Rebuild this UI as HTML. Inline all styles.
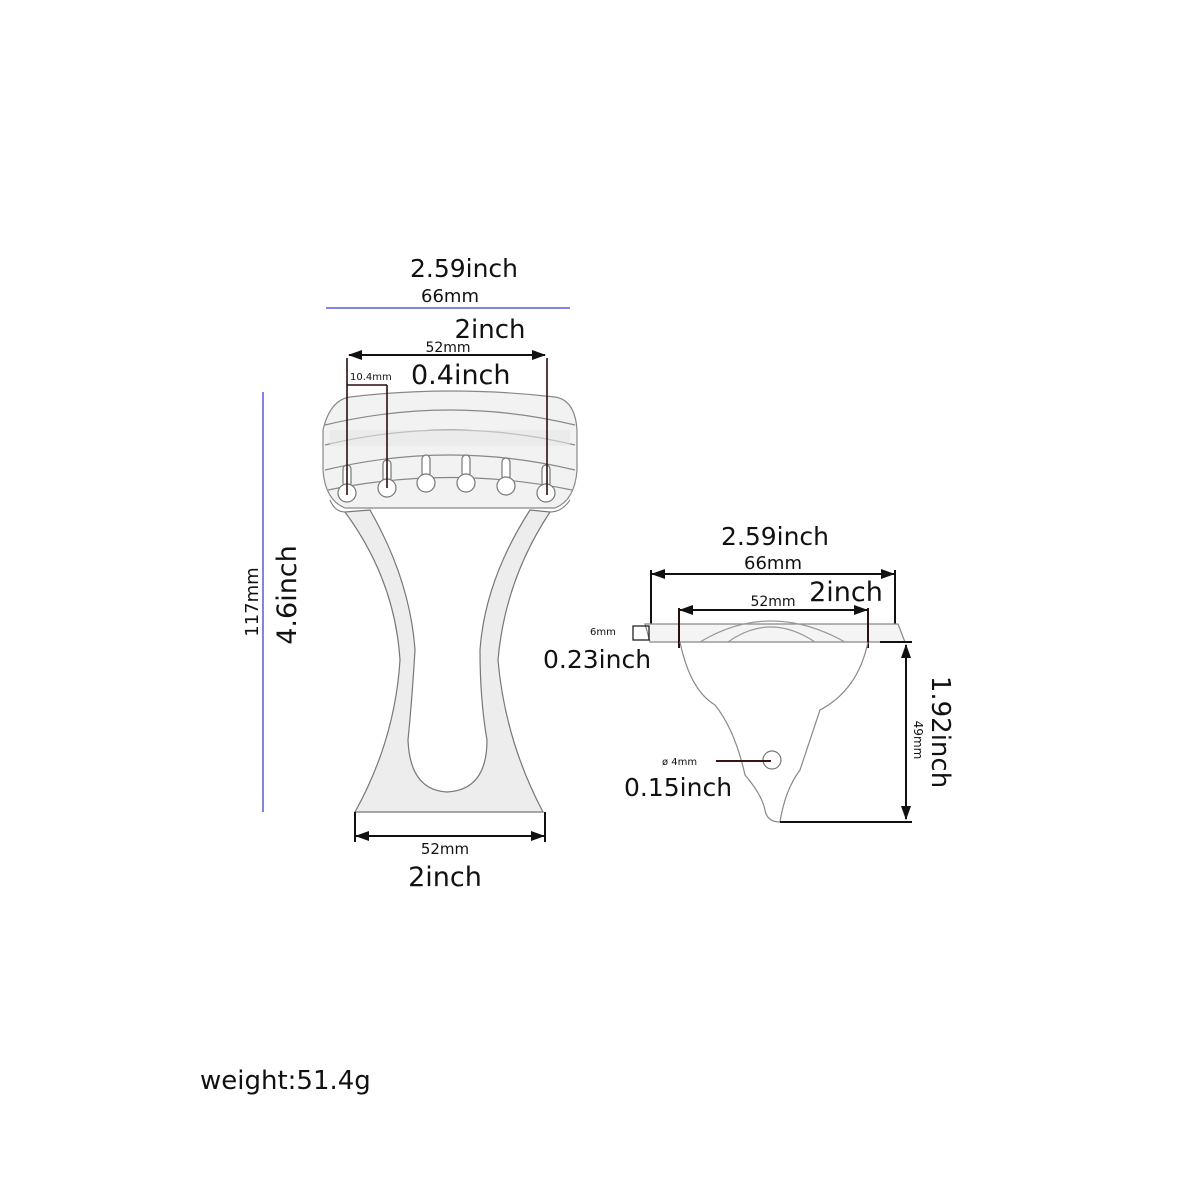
<!DOCTYPE html>
<html><head><meta charset="utf-8"><style>body{margin:0;background:#fff}svg{display:block}text{font-family:"DejaVu Sans","Liberation Sans",sans-serif;fill:#111}</style></head><body>
<svg width="1200" height="1200" viewBox="0 0 1200 1200" xmlns="http://www.w3.org/2000/svg">
<defs><marker id="a" markerWidth="7" markerHeight="6" refX="6.5" refY="3" orient="auto-start-reverse" markerUnits="userSpaceOnUse"><path d="M0,0 L7,3 L0,6z" fill="#111"/></marker>
<marker id="b" markerWidth="14" markerHeight="10" refX="13" refY="5" orient="auto-start-reverse" markerUnits="userSpaceOnUse"><path d="M0,0 L14,5 L0,10z" fill="#111"/></marker></defs>
<!-- left blue dims -->
<line x1="326" y1="308" x2="570" y2="308" stroke="#5a5ad8" stroke-width="1.5"/>
<line x1="263" y1="392" x2="263" y2="812" stroke="#5a5ad8" stroke-width="1.5"/>
<text x="464" y="277" font-size="25" text-anchor="middle">2.59inch</text>
<text x="450" y="302" font-size="18" text-anchor="middle">66mm</text>
<text x="490" y="338" font-size="26" text-anchor="middle">2inch</text>
<text x="448" y="352" font-size="14" text-anchor="middle">52mm</text>
<line x1="349" y1="355" x2="545" y2="355" stroke="#111" stroke-width="2" marker-start="url(#b)" marker-end="url(#b)"/>
<text x="350" y="380" font-size="10">10.4mm</text>
<text x="411" y="384" font-size="27">0.4inch</text>
<!-- head band -->
<path d="M323,430 Q330,400 350,397 Q450,385 555,397 Q575,400 577,430 L577,470 Q575,500 555,508 L345,508 Q325,500 323,470Z" fill="#f2f2f2" stroke="#888" stroke-width="1.2"/>
<path d="M325,425 Q450,395 575,425 M325,445 Q450,415 575,445 M325,470 Q450,440 575,470 M328,490 Q450,465 572,490" fill="none" stroke="#888" stroke-width="1.2"/>
<rect x="330" y="430" width="240" height="16" fill="#e6e6e6" opacity=".6"/>
<!-- holes -->
<g fill="#fff" stroke="#777" stroke-width="1.2">
<rect x="343" y="465" width="8" height="22" rx="4"/><circle cx="347" cy="493" r="9"/>
<rect x="383" y="460" width="8" height="22" rx="4"/><circle cx="387" cy="488" r="9"/>
<rect x="422" y="455" width="8" height="22" rx="4"/><circle cx="426" cy="483" r="9"/>
<rect x="462" y="455" width="8" height="22" rx="4"/><circle cx="466" cy="483" r="9"/>
<rect x="502" y="458" width="8" height="22" rx="4"/><circle cx="506" cy="486" r="9"/>
<rect x="542" y="465" width="8" height="22" rx="4"/><circle cx="546" cy="493" r="9"/>
</g>
<!-- neck -->
<path d="M345,512 L370,510 Q410,580 415,650 Q412,700 408,740 Q410,790 447,792 Q487,790 487,740 Q480,700 480,650 Q485,580 530,510 L550,512 Q505,580 498,660 Q505,740 543,812 L355,812 Q395,740 400,660 Q395,580 345,512Z" fill="#ededed" stroke="#777" stroke-width="1.2"/>
<path d="M330,500 Q335,512 345,512 M570,500 Q562,512 550,512" fill="none" stroke="#777"/>
<path d="M347,358 L347,495 M387,385 L387,488 M347,385 L387,385 M547,358 L547,495" fill="none" stroke="#2a0f0f" stroke-width="1.6"/>
<!-- bottom dim -->
<path d="M355,812 L355,842 M545,812 L545,842" stroke="#111" stroke-width="2"/>
<line x1="356" y1="836" x2="544" y2="836" stroke="#111" stroke-width="2" marker-start="url(#b)" marker-end="url(#b)"/>
<text x="445" y="854" font-size="15" text-anchor="middle">52mm</text>
<text x="445" y="886" font-size="27" text-anchor="middle">2inch</text>
<text transform="translate(258,602) rotate(-90)" font-size="18" text-anchor="middle">117mm</text>
<text transform="translate(296,595) rotate(-90)" font-size="27" text-anchor="middle">4.6inch</text>
<text x="200" y="1089" font-size="26">weight:51.4g</text>
<!-- right -->
<text x="775" y="545" font-size="25" text-anchor="middle">2.59inch</text>
<text x="773" y="569" font-size="18" text-anchor="middle">66mm</text>
<line x1="652" y1="574" x2="894" y2="574" stroke="#111" stroke-width="2" marker-start="url(#b)" marker-end="url(#b)"/>
<path d="M651,570 L651,642 M895,570 L895,628" stroke="#111" stroke-width="2"/>
<text x="846" y="601" font-size="27" text-anchor="middle">2inch</text>
<text x="773" y="606" font-size="14" text-anchor="middle">52mm</text>
<line x1="680" y1="610" x2="867" y2="610" stroke="#111" stroke-width="2" marker-start="url(#b)" marker-end="url(#b)"/>
<path d="M645,624 L898,624 L905,642 L650,642Z" fill="#f4f4f4" stroke="#888" stroke-width="1.2"/>
<path d="M700,642 Q770,600 845,642 M728,642 Q770,612 815,642" fill="none" stroke="#999" stroke-width="1.2"/>
<path d="M679,608 L679,648 M868,608 L868,648" stroke="#2a0f0f" stroke-width="2"/>
<rect x="633" y="626" width="16" height="14" fill="none" stroke="#111" stroke-width="1.2"/>
<text x="590" y="635" font-size="10">6mm</text>
<text x="543" y="668" font-size="25">0.23inch</text>
<path d="M680,642 Q690,690 715,705 Q735,730 745,775 Q762,795 765,810 Q767,822 780,822 Q785,790 800,770 Q810,740 820,710 Q858,690 868,642" fill="none" stroke="#888" stroke-width="1.2"/>
<circle cx="772" cy="760" r="9" fill="none" stroke="#777" stroke-width="1.2"/>
<line x1="716" y1="761" x2="771" y2="761" stroke="#3a1414" stroke-width="2"/>
<text x="662" y="765" font-size="10">ø 4mm</text>
<text x="624" y="796" font-size="25">0.15inch</text>
<path d="M880,642 L912,642 M780,822 L912,822" stroke="#111" stroke-width="2"/>
<line x1="906" y1="645" x2="906" y2="819" stroke="#111" stroke-width="2" marker-start="url(#b)" marker-end="url(#b)"/>
<text transform="translate(932,732) rotate(90)" font-size="26" text-anchor="middle">1.92inch</text>
<text transform="translate(914,740) rotate(90)" font-size="12" text-anchor="middle">49mm</text>
</svg>
</body></html>
